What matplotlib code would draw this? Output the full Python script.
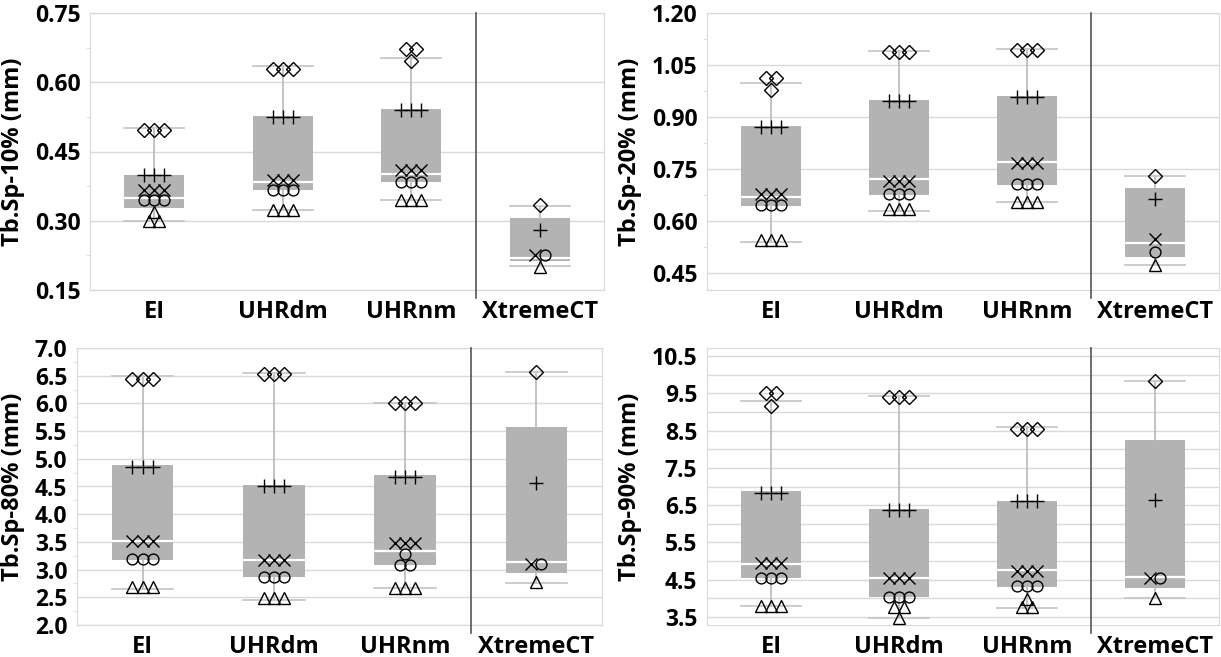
import matplotlib.pyplot as plt
from matplotlib.ticker import FixedLocator, FormatStrFormatter
import numpy as np

plt.rcParams['font.family'] = ['Open Sans', 'DejaVu Sans']
plt.rcParams['font.weight'] = 'bold'

groups = ['EI', 'UHRdm', 'UHRnm', 'XtremeCT']
subject_markers = ['D', '+', 'x', 'o', '^']
marker_sizes = {'D': 7.2, '+': 10, 'x': 8, 'o': 7.8, '^': 8.5}

# box stats per group: whisker low, q1, median, q3, whisker high
sp10_box = [[0.299, 0.328, 0.349, 0.399, 0.501],
            [0.324, 0.366, 0.383, 0.527, 0.635],
            [0.346, 0.384, 0.402, 0.543, 0.652],
            [0.201, 0.212, 0.220, 0.306, 0.332]]
sp20_box = [[0.539, 0.642, 0.668, 0.873, 0.998],
            [0.628, 0.674, 0.721, 0.948, 1.089],
            [0.654, 0.703, 0.770, 0.960, 1.096],
            [0.472, 0.495, 0.535, 0.695, 0.729]]
sp80_box = [[2.65, 3.17, 3.52, 4.89, 6.49],
            [2.45, 2.86, 3.17, 4.53, 6.55],
            [2.66, 3.08, 3.34, 4.70, 6.00],
            [2.75, 2.93, 3.14, 5.58, 6.57]]
sp90_box = [[3.79, 4.53, 4.93, 6.88, 9.29],
            [3.46, 4.03, 4.55, 6.40, 9.44],
            [3.74, 4.31, 4.75, 6.62, 8.59],
            [4.01, 4.28, 4.56, 8.26, 9.83]]

# subject values (diamond, plus, cross, circle, triangle), 3 scans each; XtremeCT one scan
sp10_pts = [[[0.496, 0.496, 0.496], [0.399, 0.399, 0.399], [0.367, 0.367, 0.367], [0.344, 0.344, 0.344], [0.299, 0.319, 0.299]],
            [[0.629, 0.629, 0.629], [0.525, 0.525, 0.525], [0.388, 0.388, 0.388], [0.366, 0.366, 0.366], [0.324, 0.324, 0.324]],
            [[0.671, 0.646, 0.671], [0.540, 0.540, 0.540], [0.409, 0.409, 0.409], [0.384, 0.384, 0.384], [0.346, 0.346, 0.346]],
            [[0.335], [0.280], [0.225], [0.225], [0.199]]]
sp20_pts = [[[1.013, 0.979, 1.013], [0.870, 0.870, 0.870], [0.678, 0.678, 0.678], [0.645, 0.645, 0.645], [0.544, 0.544, 0.544]],
            [[1.088, 1.088, 1.088], [0.945, 0.945, 0.945], [0.716, 0.716, 0.716], [0.676, 0.676, 0.676], [0.633, 0.633, 0.633]],
            [[1.094, 1.094, 1.094], [0.957, 0.957, 0.957], [0.767, 0.767, 0.767], [0.705, 0.705, 0.705], [0.654, 0.654, 0.654]],
            [[0.729], [0.662], [0.546], [0.511], [0.472]]]
sp80_pts = [[[6.44, 6.44, 6.44], [4.85, 4.85, 4.85], [3.51, 3.51, 3.51], [3.20, 3.20, 3.20], [2.68, 2.68, 2.68]],
            [[6.53, 6.53, 6.53], [4.51, 4.51, 4.51], [3.17, 3.17, 3.17], [2.87, 2.87, 2.87], [2.48, 2.48, 2.48]],
            [[6.00, 6.00, 6.00], [4.68, 4.68, 4.68], [3.48, 3.48, 3.48], [3.08, 3.28, 3.08], [2.66, 2.66, 2.66]],
            [[6.57], [4.57], [3.11], [3.11], [2.78]]]
sp90_pts = [[[9.51, 9.17, 9.51], [6.82, 6.82, 6.82], [4.95, 4.95, 4.95], [4.53, 4.53, 4.53], [3.79, 3.79, 3.79]],
            [[9.40, 9.40, 9.40], [6.37, 6.37, 6.37], [4.53, 4.53, 4.53], [4.03, 4.03, 4.03], [3.76, 3.46, 3.76]],
            [[8.54, 8.54, 8.54], [6.60, 6.60, 6.60], [4.74, 4.74, 4.74], [4.33, 4.33, 4.33], [3.77, 3.99, 3.77]],
            [[9.83], [6.64], [4.53], [4.53], [4.01]]]

BOX_W = 0.47
STEP = 0.078
GRID = '#d9d9d9'


def spread(vals, step):
    # identical values sit side by side, centred on the category
    vals = np.asarray(vals)
    offs = np.zeros(len(vals))
    for v in np.unique(vals):
        idx = np.where(vals == v)[0]
        offs[idx] = (np.arange(len(idx)) - (len(idx) - 1) / 2) * step
    return offs


def draw_panel(ax, ylabel, box, pts, ylim, major, minor, fmt, minor_grid=False):
    stats = [dict(whislo=b[0], q1=b[1], med=b[2], q3=b[3], whishi=b[4], fliers=[]) for b in box]
    ax.bxp(stats, positions=range(len(groups)), widths=BOX_W, capwidths=BOX_W,
           patch_artist=True, showfliers=False, manage_ticks=False,
           boxprops=dict(facecolor='#b3b3b3', edgecolor='none'),
           medianprops=dict(color='white', linewidth=1.6),
           whiskerprops=dict(color='#bdbdbd', linewidth=1.3),
           capprops=dict(color='#c8c8c8', linewidth=1.3), zorder=2)

    for gi, subj in enumerate(pts):
        vals = [v for s in subj for v in s]
        mks = [subject_markers[si] for si, s in enumerate(subj) for _ in s]
        offs = spread(vals, STEP)
        for v, o, m in zip(vals, offs, mks):
            ax.plot(gi + o, v, marker=m, ms=marker_sizes[m], mfc='none',
                    mec='black', mew=1.0, ls='none', zorder=4)

    ax.axvline(2.5, ymin=-0.03, ymax=1, color='#555555', lw=1.2, clip_on=False, zorder=3)

    ax.set_xlim(-0.5, 3.5)
    ax.set_ylim(*ylim)
    ax.yaxis.set_major_locator(FixedLocator(major))
    ax.yaxis.set_minor_locator(FixedLocator(minor))
    ax.yaxis.set_major_formatter(FormatStrFormatter(fmt))
    ax.grid(axis='y', which='major', color=GRID, lw=1.0, zorder=0)
    if minor_grid:
        ax.grid(axis='y', which='minor', color=GRID, lw=1.0, zorder=0)
    ax.set_axisbelow(True)
    ax.set_xticks(range(len(groups)))
    ax.set_xticklabels(groups, fontsize=17, fontweight='bold')
    ax.tick_params(axis='x', length=0, pad=7)
    ax.tick_params(axis='y', which='major', length=0, pad=7, labelsize=16.5)
    ax.tick_params(axis='y', which='minor', length=3 if not minor_grid else 0, color=GRID)
    for sp in ax.spines.values():
        sp.set_color(GRID)
    ax.set_ylabel(ylabel, fontsize=17, fontweight='bold', labelpad=7)


fig = plt.figure(figsize=(12.21, 6.57), dpi=100)
W, H = 1221, 657
ax1 = fig.add_axes([90 / W, 1 - 290 / H, 514 / W, 277 / H])
ax2 = fig.add_axes([707 / W, 1 - 290 / H, 512 / W, 277 / H])
ax3 = fig.add_axes([77 / W, 1 - 625 / H, 525 / W, 277 / H])
ax4 = fig.add_axes([707 / W, 1 - 625 / H, 512 / W, 277 / H])

draw_panel(ax1, 'Tb.Sp-10% (mm)', sp10_box, sp10_pts, (0.15, 0.75),
           np.arange(0.15, 0.76, 0.15), np.arange(0.225, 0.75, 0.15), '%.2f')
draw_panel(ax2, 'Tb.Sp-20% (mm)', sp20_box, sp20_pts, (0.40, 1.20),
           np.arange(0.45, 1.21, 0.15), np.arange(0.525, 1.2, 0.15), '%.2f')
draw_panel(ax3, 'Tb.Sp-80% (mm)', sp80_box, sp80_pts, (2.0, 7.0),
           np.arange(2.0, 7.01, 0.5), np.arange(2.25, 7.0, 0.5), '%.1f')
draw_panel(ax4, 'Tb.Sp-90% (mm)', sp90_box, sp90_pts, (3.28, 10.72),
           np.arange(3.5, 10.51, 1.0), np.arange(4.0, 10.6, 1.0), '%.1f', minor_grid=True)

fig.savefig('out.png', dpi=100, facecolor='white')
